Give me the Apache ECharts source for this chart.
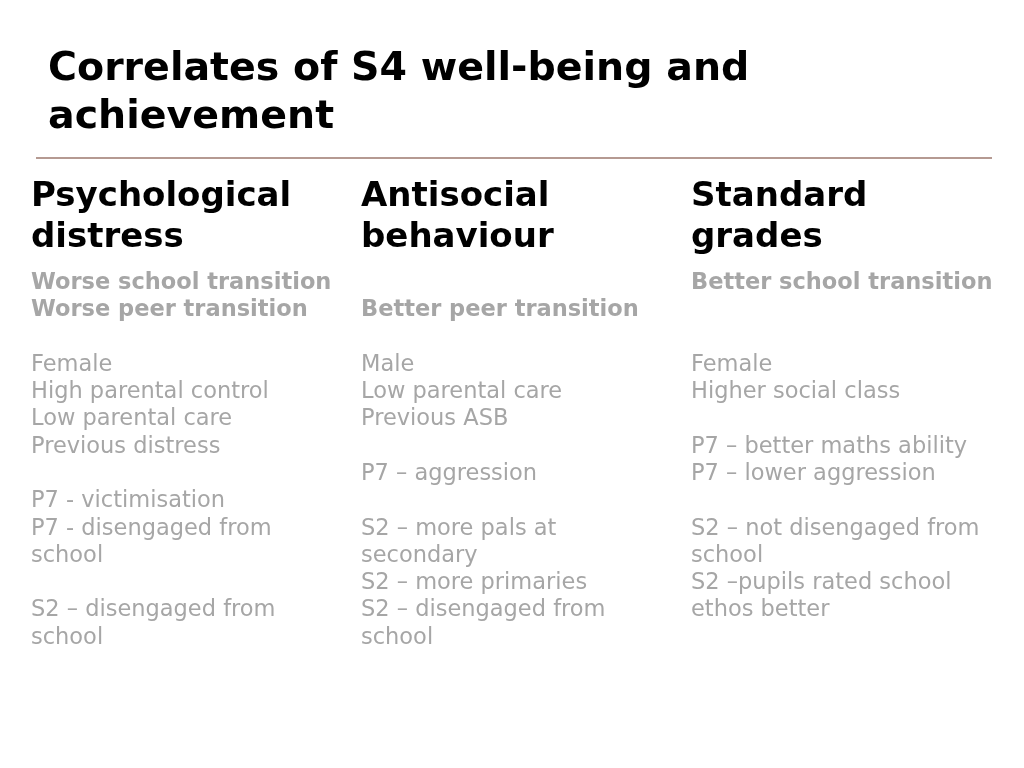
<!DOCTYPE html>
<html>
<head><meta charset="utf-8"></head>
<body style="margin:0;height:100%">
<div id="container" style="width:1024px;height:768px"></div>
<script src="https://cdn.jsdelivr.net/npm/echarts@6/dist/echarts.min.js"></script>
<script>
var titleLines = ['Correlates of S4 well-being and', 'achievement'];
var headers = [['Psychological', 'distress'], ['Antisocial', 'behaviour'], ['Standard', 'grades']];
// '' = blank row, '*' prefix = bold
var columns = [
  ['*Worse school transition', '*Worse peer transition', '', 'Female', 'High parental control', 'Low parental care', 'Previous distress', '', 'P7 - victimisation', 'P7 - disengaged from', 'school', '', 'S2 \u2013 disengaged from', 'school'],
  ['', '*Better peer transition', '', 'Male', 'Low parental care', 'Previous ASB', '', 'P7 \u2013 aggression', '', 'S2 \u2013 more pals at', 'secondary', 'S2 \u2013 more primaries', 'S2 \u2013 disengaged from', 'school'],
  ['*Better school transition', '', '', 'Female', 'Higher social class', '', 'P7 \u2013 better maths ability', 'P7 \u2013 lower aggression', '', 'S2 \u2013 not disengaged from', 'school', 'S2 \u2013pupils rated school', 'ethos better']
];

var chart = echarts.init(document.getElementById('container'));
var font = 'DejaVu Sans, Verdana, sans-serif';
var colX = [31, 361, 691];
var g = [];
titleLines.forEach(function (t, i) {
  g.push({type: 'text', left: 48, top: 75 + i * 48 - 25, style: {text: t, font: 'bold 39.5px ' + font, fill: '#000'}});
});
g.push({type: 'rect', shape: {x: 36, y: 157, width: 956, height: 2}, style: {fill: '#b59a92'}});
headers.forEach(function (h, c) {
  h.forEach(function (t, i) {
    g.push({type: 'text', left: colX[c], top: 202 + i * 41 - 22, style: {text: t, font: 'bold 34px ' + font, fill: '#000'}});
  });
});
columns.forEach(function (col, c) {
  col.forEach(function (t, i) {
    if (!t) return;
    var bold = t[0] === '*';
    g.push({type: 'text', left: colX[c], top: 286 + i * 27.3 - 14.5,
      style: {text: bold ? t.slice(1) : t, font: (bold ? 'bold ' : '') + '22.5px ' + font, fill: '#a6a6a6'}});
  });
});
chart.setOption({backgroundColor: '#fff', graphic: g});
</script>
</body>
</html>
